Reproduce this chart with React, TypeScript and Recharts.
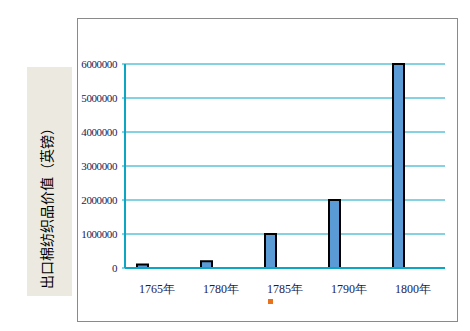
import React from "react";
import { BarChart, Bar, XAxis, YAxis, CartesianGrid, Legend } from "recharts";

const years = ["1765年", "1780年", "1785年", "1790年", "1800年"];
const exportValues = [100000, 200000, 1000000, 2000000, 6000000];
const secondSeries = [null, null, null, null, null];
const yTicks = [0, 1000000, 2000000, 3000000, 4000000, 5000000, 6000000];
const yLabel = "出口棉纺织品价值（英镑）";

const data = years.map((y, i) => ({ year: y, value: exportValues[i], other: secondSeries[i] }));

const TEAL = "#0aa6c4";
const TEXT = "#1a1a50";
const SERIF = "'Liberation Serif', 'Times New Roman', serif";

const LegendSquare = () => (
  <div style={{ position: "relative", width: 470, height: 6 }}>
    <div style={{ position: "absolute", left: 268, top: 0, width: 5, height: 5, background: "#e8711c" }} />
  </div>
);

export default function App() {
  return (
    <div style={{ position: "absolute", left: 0, top: 0, width: 470, height: 331, background: "#fff" }}>
      <div
        style={{
          position: "absolute",
          left: 77,
          top: 18,
          width: 379,
          height: 302,
          border: "1px solid #8a8a8a",
          boxSizing: "content-box",
        }}
      />
      <div
        style={{
          position: "absolute",
          left: 27,
          top: 67,
          width: 45,
          height: 229,
          background: "#ece9e1",
        }}
      />
      <div
        style={{
          position: "absolute",
          left: 46,
          top: 205,
          transform: "translate(-50%, -50%) rotate(-90deg)",
          whiteSpace: "nowrap",
          fontFamily: "'Noto Sans CJK SC', sans-serif",
          fontSize: 14,
          color: "#000",
          lineHeight: "16px",
        }}
      >
        {yLabel}
      </div>
      <div style={{ position: "absolute", left: 0, top: 0, fontFamily: SERIF }}>
        <BarChart
          width={470}
          height={331}
          data={data}
          margin={{ top: 64, right: 25, bottom: 27, left: 80 }}
          barGap={18}
          barSize={11}
          style={{ fontFamily: SERIF }}
        >
          <CartesianGrid horizontal={true} vertical={false} stroke={TEAL} strokeWidth={1} strokeDasharray="" />
          <XAxis
            dataKey="year"
            axisLine={{ stroke: TEAL, strokeWidth: 2 }}
            tickLine={false}
            height={30}
            tick={{ fontFamily: SERIF, fontSize: 12, fill: TEXT, style: { fontFamily: SERIF } }}
            tickMargin={10}
          />
          <YAxis
            width={45}
            domain={[0, 6000000]}
            ticks={yTicks}
            interval={0}
            axisLine={{ stroke: TEAL, strokeWidth: 2 }}
            tickLine={{ stroke: TEAL }}
            tickSize={3}
            tickMargin={5}
            tick={{ fontFamily: SERIF, fontSize: 11, fill: TEXT, letterSpacing: -0.4, style: { fontFamily: SERIF } }}
          />
          <Legend content={<LegendSquare />} wrapperStyle={{ position: "absolute", left: 0, top: 299, width: 470, height: 6 }} />
          <Bar dataKey="value" fill="#5b9bd5" stroke="#000" strokeWidth={2} isAnimationActive={false} />
          <Bar dataKey="other" fill="#e8711c" isAnimationActive={false} />
        </BarChart>
      </div>
    </div>
  );
}
